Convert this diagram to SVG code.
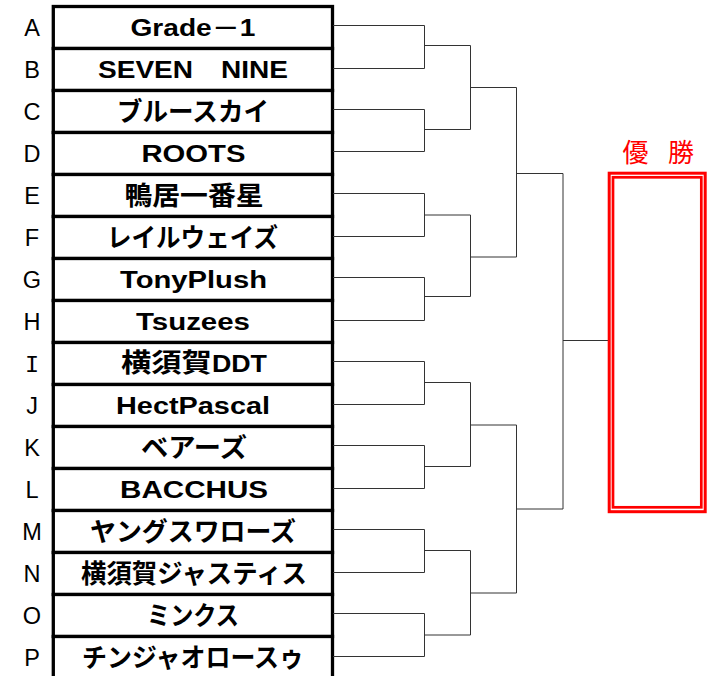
<svg xmlns="http://www.w3.org/2000/svg" width="708" height="676" viewBox="0 0 708 676">
<style>
.lt{font-family:"Liberation Sans",Arial,sans-serif;font-size:23.5px;text-anchor:middle;fill:#000}
.nm{font-family:"Liberation Sans","Noto Sans CJK JP",sans-serif;font-weight:bold;font-size:23px;text-anchor:middle;fill:#000}
.jp{font-family:"Noto Sans CJK JP",sans-serif;font-weight:bold;font-size:26px}
.cell{fill:#fff;stroke:#000;stroke-width:3.3}
.con path{fill:none;stroke:#333;stroke-width:1}
.red{fill:none;stroke:#ff0000}
.win{font-family:"Noto Sans CJK JP",sans-serif;font-size:26px;fill:#ff0000;text-anchor:middle}
</style>
<rect width="708" height="676" fill="#fff"/>
<g id="teams">
<g id="team-A"><rect class="cell" x="53.3" y="6.5" width="279.2" height="42"/><text class="lt" x="32" y="36">A</text><text class="nm" x="193" y="36" textLength="125" lengthAdjust="spacingAndGlyphs">Grade－1</text></g>
<g id="team-B"><rect class="cell" x="53.3" y="48.5" width="279.2" height="42"/><text class="lt" x="32" y="78">B</text><text class="nm" x="193" y="78" textLength="190" lengthAdjust="spacingAndGlyphs">SEVEN　NINE</text></g>
<g id="team-C"><rect class="cell" x="53.3" y="90.5" width="279.2" height="42"/><text class="lt" x="32" y="120">C</text><text class="nm jp" x="193" y="121" textLength="152" lengthAdjust="spacingAndGlyphs">ブルースカイ</text></g>
<g id="team-D"><rect class="cell" x="53.3" y="132.5" width="279.2" height="42"/><text class="lt" x="32" y="162">D</text><text class="nm" x="193.5" y="162" textLength="104" lengthAdjust="spacingAndGlyphs">ROOTS</text></g>
<g id="team-E"><rect class="cell" x="53.3" y="174.5" width="279.2" height="42"/><text class="lt" x="32" y="204">E</text><text class="nm jp" x="194" y="205" textLength="139" lengthAdjust="spacingAndGlyphs">鴨居一番星</text></g>
<g id="team-F"><rect class="cell" x="53.3" y="216.5" width="279.2" height="42"/><text class="lt" x="32" y="246">F</text><text class="nm jp" x="192.5" y="247" textLength="171" lengthAdjust="spacingAndGlyphs">レイルウェイズ</text></g>
<g id="team-G"><rect class="cell" x="53.3" y="258.5" width="279.2" height="42"/><text class="lt" x="32" y="288">G</text><text class="nm" x="193.5" y="288" textLength="147" lengthAdjust="spacingAndGlyphs">TonyPlush</text></g>
<g id="team-H"><rect class="cell" x="53.3" y="300.5" width="279.2" height="42"/><text class="lt" x="32" y="330">H</text><text class="nm" x="193" y="330" textLength="114" lengthAdjust="spacingAndGlyphs">Tsuzees</text></g>
<g id="team-I"><rect class="cell" x="53.3" y="342.5" width="279.2" height="42"/><text class="lt" x="32" y="372" style="font-family:'Liberation Mono',monospace">I</text><text class="nm" x="194" y="372" textLength="146" lengthAdjust="spacingAndGlyphs"><tspan class="jp">横須賀</tspan>DDT</text></g>
<g id="team-J"><rect class="cell" x="53.3" y="384.5" width="279.2" height="42"/><text class="lt" x="32" y="414">J</text><text class="nm" x="193" y="414" textLength="154" lengthAdjust="spacingAndGlyphs">HectPascal</text></g>
<g id="team-K"><rect class="cell" x="53.3" y="426.5" width="279.2" height="42"/><text class="lt" x="32" y="456">K</text><text class="nm jp" x="194" y="457" textLength="106" lengthAdjust="spacingAndGlyphs">ベアーズ</text></g>
<g id="team-L"><rect class="cell" x="53.3" y="468.5" width="279.2" height="42"/><text class="lt" x="32" y="498">L</text><text class="nm" x="194" y="498" textLength="148" lengthAdjust="spacingAndGlyphs">BACCHUS</text></g>
<g id="team-M"><rect class="cell" x="53.3" y="510.5" width="279.2" height="42"/><text class="lt" x="32" y="540">M</text><text class="nm jp" x="193" y="541" textLength="206" lengthAdjust="spacingAndGlyphs">ヤングスワローズ</text></g>
<g id="team-N"><rect class="cell" x="53.3" y="552.5" width="279.2" height="42"/><text class="lt" x="32" y="582">N</text><text class="nm jp" x="194" y="583" textLength="226" lengthAdjust="spacingAndGlyphs">横須賀ジャスティス</text></g>
<g id="team-O"><rect class="cell" x="53.3" y="594.5" width="279.2" height="42"/><text class="lt" x="32" y="624">O</text><text class="nm jp" x="193" y="625" textLength="92" lengthAdjust="spacingAndGlyphs">ミンクス</text></g>
<g id="team-P"><rect class="cell" x="53.3" y="636.5" width="279.2" height="42"/><text class="lt" x="32" y="666">P</text><text class="nm jp" x="193" y="667" textLength="222" lengthAdjust="spacingAndGlyphs">チンジャオロースゥ</text></g>
</g>
<g id="connectors" class="con">
<path d="M333 25.5H424.5V68.5H333M424.5 45.5H470.5"/>
<path d="M333 109.5H424.5V151.5H333M424.5 129.5H470.5"/>
<path d="M333 193.5H424.5V236.5H333M424.5 215H470.5"/>
<path d="M333 277.5H424.5V320.5H333M424.5 296.5H470.5"/>
<path d="M333 361.5H424.5V404.5H333M424.5 382.5H470.5"/>
<path d="M333 445.5H424.5V488.5H333M424.5 466.5H470.5"/>
<path d="M333 529.5H424.5V572.5H333M424.5 550.5H470.5"/>
<path d="M333 613.5H424.5V656.5H333M424.5 635H470.5"/>
<path d="M470.5 45.5V129.5M470.5 87.5H516.5"/>
<path d="M470.5 215V296.5M470.5 257H516.5"/>
<path d="M470.5 382.5V466.5M470.5 425H516.5"/>
<path d="M470.5 550.5V635M470.5 593H516.5"/>
<path d="M516.5 87.5V257M516.5 173.5H563"/>
<path d="M516.5 425V593M516.5 509H563"/>
<path d="M563 173.5V509M563 340.5H608"/>
</g>
<g id="champion">
<rect class="red" x="609.2" y="173.2" width="96" height="338.5" stroke-width="3"/>
<rect class="red" x="613" y="177.3" width="88.3" height="330" stroke-width="2.7"/>
<text class="win" x="635.5" y="162">優</text>
<text class="win" x="681" y="162">勝</text>
</g>
</svg>
